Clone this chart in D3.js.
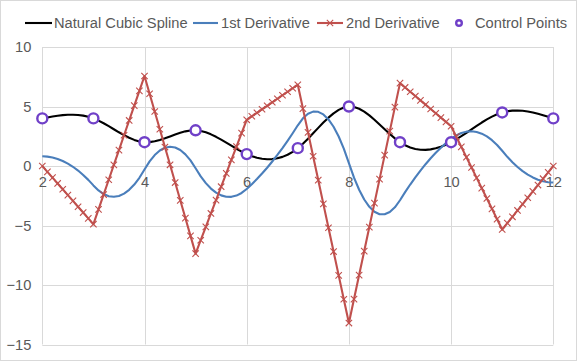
<!DOCTYPE html>
<html>
<head>
<meta charset="utf-8">
<script src="https://cdn.jsdelivr.net/npm/d3@7"></script>
<style>
  html, body { margin: 0; padding: 0; background: #fff; }
  svg { display: block; font-family: "Liberation Sans", Arial, sans-serif; }
</style>
</head>
<body>
<svg id="chart" width="577" height="361"></svg>
<script>
// ---- Data ----
const controlX = [2, 3, 4, 5, 6, 7, 8, 9, 10, 11, 12];
const controlY = [4, 4, 2, 3, 1, 1.5, 5, 2, 2, 4.5, 4];
const sampleStep = 0.1;
const xTicks = [2, 4, 6, 8, 10, 12];
const yTicks = [-15, -10, -5, 0, 5, 10];
const seriesNames = ["Natural Cubic Spline", "1st Derivative", "2nd Derivative", "Control Points"];

// ---- Natural cubic spline through the control points ----
const n = controlX.length;
const h = d3.range(n - 1).map(i => controlX[i + 1] - controlX[i]);
const M = new Array(n).fill(0);
(function solve() {
  const m = n - 2;
  const a = [], b = [], c = [], d = [];
  for (let i = 1; i <= m; i++) {
    a.push(h[i - 1]);
    b.push(2 * (h[i - 1] + h[i]));
    c.push(h[i]);
    d.push(6 * ((controlY[i + 1] - controlY[i]) / h[i] - (controlY[i] - controlY[i - 1]) / h[i - 1]));
  }
  for (let i = 1; i < m; i++) {
    const w = a[i] / b[i - 1];
    b[i] -= w * c[i - 1];
    d[i] -= w * d[i - 1];
  }
  const sol = new Array(m);
  sol[m - 1] = d[m - 1] / b[m - 1];
  for (let i = m - 2; i >= 0; i--) sol[i] = (d[i] - c[i] * sol[i + 1]) / b[i];
  for (let i = 0; i < m; i++) M[i + 1] = sol[i];
})();

function segIndex(x) {
  let i = 0;
  while (i < n - 2 && x > controlX[i + 1]) i++;
  return i;
}
function evalSpline(x) {
  const i = segIndex(x), hi = h[i];
  const A = controlX[i + 1] - x, B = x - controlX[i];
  const s = M[i] * A * A * A / (6 * hi) + M[i + 1] * B * B * B / (6 * hi)
    + (controlY[i] / hi - M[i] * hi / 6) * A + (controlY[i + 1] / hi - M[i + 1] * hi / 6) * B;
  const d1 = -M[i] * A * A / (2 * hi) + M[i + 1] * B * B / (2 * hi)
    - (controlY[i] / hi - M[i] * hi / 6) + (controlY[i + 1] / hi - M[i + 1] * hi / 6);
  const d2 = M[i] * A / hi + M[i + 1] * B / hi;
  return { x, s, d1, d2 };
}
const nSamples = Math.round((controlX[n - 1] - controlX[0]) / sampleStep);
const samples = d3.range(nSamples + 1).map(k => evalSpline(+(controlX[0] + k * sampleStep).toFixed(6)));

// ---- Layout ----
const svg = d3.select("#chart");
const W = 577, H = 361;
const plot = { left: 42.3, right: 553.3, top: 47, bottom: 344.5 };
const x = d3.scaleLinear().domain([2, 12]).range([plot.left, plot.right]);
const y = d3.scaleLinear().domain([-15, 10]).range([plot.bottom, plot.top]);
const textColor = "#595959", gridColor = "#d9d9d9";
const fontSize = "14.67px";

svg.append("rect").attr("x", 0.5).attr("y", 0.5).attr("width", W - 1).attr("height", H - 1)
  .attr("fill", "#fff").attr("stroke", gridColor).attr("stroke-width", 1);

// gridlines
svg.append("g").selectAll("line").data(yTicks).join("line")
  .attr("x1", plot.left).attr("x2", plot.right)
  .attr("y1", d => Math.round(y(d)) + 0.5).attr("y2", d => Math.round(y(d)) + 0.5)
  .attr("stroke", gridColor).attr("stroke-width", 1);
svg.append("g").selectAll("line").data(xTicks).join("line")
  .attr("x1", d => Math.round(x(d)) + 0.5).attr("x2", d => Math.round(x(d)) + 0.5)
  .attr("y1", plot.top).attr("y2", plot.bottom)
  .attr("stroke", gridColor).attr("stroke-width", 1);

// axes
const yAxis = svg.append("g").attr("transform", `translate(${plot.left},0)`)
  .call(d3.axisLeft(y).tickValues(yTicks).tickSize(0).tickPadding(11));
const xAxis = svg.append("g").attr("transform", `translate(0,${y(0)})`)
  .call(d3.axisBottom(x).tickValues(xTicks).tickSize(0).tickPadding(11));
[yAxis, xAxis].forEach(g => {
  g.select(".domain").remove();
  g.selectAll("text").attr("fill", textColor).style("font-size", fontSize)
    .style("font-family", '"Liberation Sans", Arial, sans-serif');
});

// series
const lineGen = key => d3.line().x(d => x(d.x)).y(d => y(d[key]));
svg.append("path").datum(samples).attr("d", lineGen("s"))
  .attr("fill", "none").attr("stroke", "#000").attr("stroke-width", 2.1).attr("stroke-linejoin", "round");
svg.append("path").datum(samples).attr("d", lineGen("d1"))
  .attr("fill", "none").attr("stroke", "#4a7ebb").attr("stroke-width", 2.1).attr("stroke-linejoin", "round");
const red = "#c0504d";
svg.append("path").datum(samples).attr("d", lineGen("d2"))
  .attr("fill", "none").attr("stroke", red).attr("stroke-width", 2.1).attr("stroke-linejoin", "round");
const xm = 3.2;
const crossPath = `M${-xm},${-xm}L${xm},${xm}M${-xm},${xm}L${xm},${-xm}`;
svg.append("g").selectAll("path").data(samples).join("path")
  .attr("transform", d => `translate(${x(d.x)},${y(d.d2)})`)
  .attr("d", crossPath).attr("stroke", red).attr("stroke-width", 1.1).attr("fill", "none");
const purple = "#7040c8";
svg.append("g").selectAll("circle").data(controlX.map((cx, i) => ({ x: cx, y: controlY[i] }))).join("circle")
  .attr("cx", d => x(d.x)).attr("cy", d => y(d.y)).attr("r", 5)
  .attr("fill", "#fff").attr("stroke", purple).attr("stroke-width", 2.4);

// legend
const leg = svg.append("g").style("font-size", fontSize);
const ly = 23;
const legendItems = [
  { name: seriesNames[0], type: "line", color: "#000", x0: 25, x1: 52, tx: 54 },
  { name: seriesNames[1], type: "line", color: "#4a7ebb", x0: 193, x1: 218, tx: 221 },
  { name: seriesNames[2], type: "cross", color: red, x0: 317, x1: 343, tx: 346 },
  { name: seriesNames[3], type: "circle", color: purple, x0: 459, x1: 459, tx: 475 }
];
legendItems.forEach(it => {
  if (it.type === "line" || it.type === "cross") {
    leg.append("line").attr("x1", it.x0).attr("x2", it.x1).attr("y1", ly).attr("y2", ly)
      .attr("stroke", it.color).attr("stroke-width", 2.1);
  }
  if (it.type === "cross") {
    leg.append("path").attr("transform", `translate(${(it.x0 + it.x1) / 2},${ly})`)
      .attr("d", crossPath).attr("stroke", it.color).attr("stroke-width", 1.1);
  }
  if (it.type === "circle") {
    leg.append("circle").attr("cx", it.x0).attr("cy", ly).attr("r", 2.8)
      .attr("fill", "#fff").attr("stroke", it.color).attr("stroke-width", 2.4);
  }
  leg.append("text").attr("x", it.tx).attr("y", ly).attr("dy", "0.35em")
    .attr("fill", textColor).text(it.name);
});
</script>
</body>
</html>
